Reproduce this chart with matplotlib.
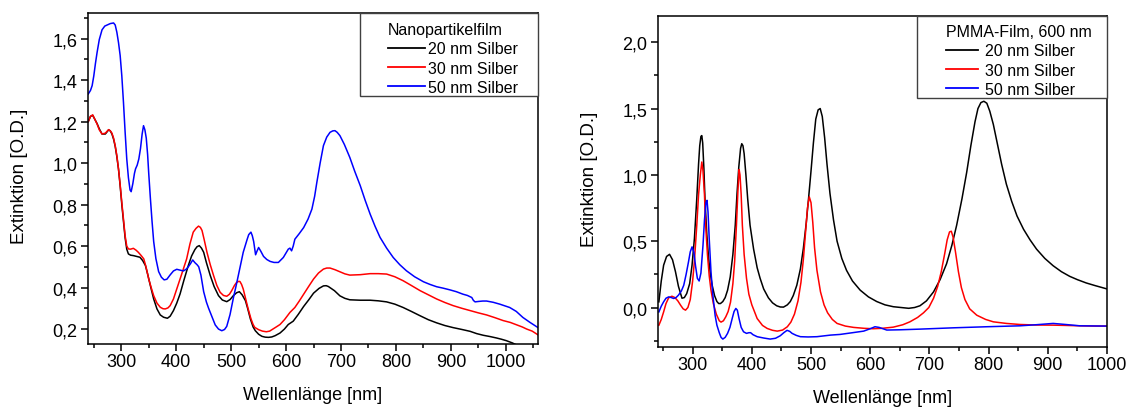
import matplotlib
matplotlib.use("Agg")
import matplotlib.pyplot as plt
from matplotlib.ticker import MultipleLocator, FuncFormatter
from matplotlib.patches import Rectangle

plt.rcParams['font.family'] = ['Liberation Sans', 'DejaVu Sans']

# ---------------- data: left panel (Nanopartikelfilm) ----------------
wl_L_20 = [240, 244, 248, 252, 256, 260, 265, 271, 277, 280, 283, 286, 289, 292, 295, 298, 301, 304, 307,
           310, 313, 317, 322, 328, 334, 339, 344, 348, 353, 359, 365, 371, 377, 384, 389, 395, 401, 407,
           414, 422, 428, 434, 438, 442, 446, 450, 455, 462, 469, 477, 484, 492, 498, 504, 510, 515, 520,
           526, 530, 535, 540, 544, 550, 556, 562, 568, 574, 580, 589, 597, 604, 613, 622, 632, 641, 650,
           660, 668, 673, 677, 688, 698, 707, 716, 735, 753, 768, 783, 798, 813, 828, 844, 859, 874, 889,
           904, 920, 935, 947, 959, 971, 983, 992, 1001, 1012, 1022]
ext_L_20 = [1.20, 1.225, 1.23, 1.21, 1.19, 1.165, 1.14, 1.14, 1.16, 1.155, 1.14, 1.115, 1.08, 1.03, 0.97,
            0.89, 0.80, 0.72, 0.64, 0.585, 0.562, 0.556, 0.554, 0.55, 0.546, 0.53, 0.506, 0.465, 0.409,
            0.345, 0.297, 0.268, 0.257, 0.252, 0.262, 0.289, 0.325, 0.369, 0.435, 0.506, 0.552, 0.583,
            0.597, 0.602, 0.59, 0.570, 0.52, 0.458, 0.405, 0.361, 0.34, 0.332, 0.342, 0.361, 0.375, 0.380,
            0.365, 0.337, 0.30, 0.249, 0.21, 0.192, 0.175, 0.165, 0.161, 0.160, 0.162, 0.168, 0.181, 0.20,
            0.222, 0.238, 0.27, 0.309, 0.34, 0.373, 0.396, 0.408, 0.409, 0.405, 0.385, 0.360, 0.348, 0.341,
            0.339, 0.339, 0.336, 0.331, 0.32, 0.304, 0.285, 0.264, 0.245, 0.23, 0.217, 0.207, 0.198, 0.189,
            0.178, 0.170, 0.164, 0.157, 0.151, 0.144, 0.133, 0.12]

wl_L_30 = [240, 244, 248, 252, 256, 260, 265, 271, 277, 280, 283, 286, 289, 292, 295, 298, 301, 304, 307,
           310, 313, 317, 322, 327, 331, 336, 341, 345, 350, 355, 359, 365, 371, 376, 380, 385, 389, 395,
           401, 410, 419, 425, 431, 436, 440.6, 444, 447, 451, 456, 462, 468, 474, 480, 486, 492, 497, 501,
           506, 510, 514, 516, 519, 522, 526, 531, 536, 540, 543, 550, 557, 564, 570, 576, 582, 589, 597,
           607, 616, 624, 632, 641, 650, 659, 668, 674, 680, 689, 698, 707, 716, 735, 753, 768, 783, 798,
           813, 828, 844, 859, 874, 889, 904, 920, 935, 950, 965, 980, 995, 1008, 1020, 1030, 1038, 1048,
           1058]
ext_L_30 = [1.20, 1.225, 1.232, 1.21, 1.188, 1.16, 1.14, 1.144, 1.161, 1.155, 1.144, 1.12, 1.083, 1.035,
            0.971, 0.895, 0.81, 0.73, 0.65, 0.60, 0.586, 0.585, 0.589, 0.58, 0.570, 0.555, 0.538, 0.50,
            0.441, 0.395, 0.361, 0.325, 0.305, 0.298, 0.297, 0.302, 0.313, 0.345, 0.393, 0.465, 0.538,
            0.61, 0.667, 0.685, 0.696, 0.69, 0.675, 0.63, 0.570, 0.51, 0.458, 0.41, 0.377, 0.362, 0.358,
            0.368, 0.385, 0.41, 0.425, 0.43, 0.429, 0.415, 0.393, 0.35, 0.297, 0.25, 0.222, 0.208, 0.197,
            0.19, 0.187, 0.19, 0.200, 0.21, 0.222, 0.245, 0.280, 0.304, 0.335, 0.368, 0.405, 0.441, 0.47,
            0.489, 0.494, 0.494, 0.486, 0.476, 0.466, 0.460, 0.462, 0.467, 0.467, 0.465, 0.452, 0.433, 0.41,
            0.385, 0.365, 0.345, 0.328, 0.313, 0.30, 0.289, 0.278, 0.268, 0.255, 0.241, 0.232, 0.22, 0.21,
            0.20, 0.19, 0.173]

wl_L_50 = [240, 244, 247, 250, 253, 256, 260, 265, 270, 274, 280, 286, 289, 292, 295, 298, 301, 304, 307,
           310, 313, 316, 318, 321, 324, 326, 329, 332, 335, 338, 340.5, 343, 345.5, 348, 350, 353, 356,
           359, 363, 368, 373, 378, 383, 389, 395, 401, 407, 413, 418, 422, 426, 430, 434, 438, 441, 445,
           450, 455, 459, 465, 471, 477, 483, 488, 492, 498, 504, 510, 516, 522, 529, 532, 536, 538.5, 541,
           543, 544.5, 547, 550, 554, 559, 565, 571, 578, 586, 595, 604, 607, 610, 613, 616, 624, 632, 640,
           647, 652, 656, 662, 668, 674, 680, 685, 689, 693, 698, 706, 716, 725, 735, 744, 753, 762, 771,
           783, 795, 807, 819, 834, 850, 862, 874, 886, 898, 910, 922, 930, 938, 941, 944, 950, 958, 965,
           977, 989, 998, 1007, 1019, 1031, 1044, 1052, 1058]
ext_L_50 = [1.333, 1.35, 1.373, 1.42, 1.48, 1.533, 1.595, 1.642, 1.66, 1.665, 1.672, 1.675, 1.665, 1.630,
            1.58, 1.518, 1.42, 1.293, 1.15, 1.020, 0.93, 0.87, 0.862, 0.90, 0.95, 0.972, 0.99, 1.02, 1.07,
            1.14, 1.18, 1.16, 1.12, 1.04, 0.95, 0.83, 0.72, 0.622, 0.54, 0.477, 0.45, 0.437, 0.44, 0.461,
            0.48, 0.488, 0.484, 0.48, 0.488, 0.50, 0.515, 0.533, 0.52, 0.51, 0.50, 0.46, 0.38, 0.33, 0.30,
            0.26, 0.22, 0.20, 0.192, 0.198, 0.213, 0.27, 0.349, 0.42, 0.494, 0.57, 0.631, 0.655, 0.667,
            0.65, 0.622, 0.585, 0.558, 0.575, 0.593, 0.575, 0.550, 0.535, 0.526, 0.521, 0.521, 0.545,
            0.585, 0.59, 0.577, 0.60, 0.633, 0.66, 0.689, 0.73, 0.778, 0.84, 0.907, 1.00, 1.084, 1.125,
            1.148, 1.155, 1.156, 1.148, 1.132, 1.09, 1.027, 0.96, 0.891, 0.82, 0.754, 0.695, 0.642, 0.59,
            0.545, 0.51, 0.481, 0.452, 0.428, 0.415, 0.404, 0.397, 0.389, 0.38, 0.368, 0.362, 0.352, 0.338,
            0.331, 0.333, 0.335, 0.335, 0.329, 0.320, 0.312, 0.304, 0.285, 0.256, 0.232, 0.218, 0.208]

# ---------------- data: right panel (PMMA-Film, 600 nm) ----------------
wl_R_20 = [243, 247, 251, 256, 261, 266, 271, 276, 282, 286, 290, 295, 299, 303, 307, 310, 312, 314,
           315.5, 317, 319, 321, 324, 327, 330, 333, 337, 341, 344, 347, 351, 355, 359, 363.5, 368, 372,
           375, 378, 381, 383, 385, 387, 390, 393, 397, 403, 409, 414, 420, 428, 435, 442, 448, 453.5,
           460, 465, 470, 476, 482, 487, 492, 496, 500, 504, 508, 512, 515.5, 519, 523, 527, 532, 538,
           544, 552, 560, 570, 583, 597, 611, 625, 639, 652, 665, 675, 684, 695, 707, 718, 729, 738, 746,
           755, 763, 770, 777, 782, 787, 792, 797, 802, 808, 815, 822, 830, 839, 848, 859, 870, 881, 895,
           909, 923, 937, 950, 965, 980, 1000]
ext_R_20 = [0.043, 0.20, 0.319, 0.385, 0.401, 0.36, 0.27, 0.16, 0.07, 0.075, 0.105, 0.18, 0.319, 0.52,
            0.821, 1.08, 1.22, 1.29, 1.296, 1.24, 1.05, 0.80, 0.55, 0.369, 0.25, 0.168, 0.09, 0.045, 0.03,
            0.030, 0.045, 0.075, 0.13, 0.23, 0.40, 0.62, 0.86, 1.06, 1.20, 1.235, 1.22, 1.16, 1.0, 0.82,
            0.62, 0.44, 0.30, 0.22, 0.14, 0.073, 0.035, 0.013, 0.004, 0.003, 0.02, 0.045, 0.09, 0.168,
            0.29, 0.444, 0.64, 0.83, 1.03, 1.24, 1.42, 1.49, 1.50, 1.44, 1.28, 1.08, 0.86, 0.66, 0.50,
            0.37, 0.28, 0.20, 0.131, 0.08, 0.045, 0.02, 0.006, 0.0, -0.006, 0.0, 0.013, 0.05, 0.118, 0.21,
            0.33, 0.47, 0.62, 0.82, 1.02, 1.22, 1.40, 1.50, 1.545, 1.555, 1.54, 1.48, 1.38, 1.23, 1.08,
            0.93, 0.80, 0.69, 0.59, 0.51, 0.44, 0.37, 0.315, 0.27, 0.235, 0.21, 0.185, 0.165, 0.14]

wl_R_30 = [243, 247, 251, 255, 259.5, 265, 270, 275, 280, 284, 288, 292, 296, 300, 303, 307, 310, 313,
           315.5, 317.5, 320, 322, 325, 328, 331, 335, 340, 345, 348, 352, 356, 360, 364, 368, 371, 374,
           376.5, 378.5, 380, 382, 384, 387, 391, 395, 400, 409, 418, 426, 435, 443, 452, 460, 466, 472,
           478, 483, 487, 491, 494, 497, 500, 503, 506, 510, 516, 522, 528, 536, 544, 558, 572, 590, 605,
           620, 639, 655, 667, 680, 690, 699, 707, 714, 720, 726, 730, 734, 737, 740, 744, 749, 754, 760,
           768, 780, 795, 808, 830, 853, 880, 909, 930, 954, 980, 1000]
ext_R_30 = [-0.133, -0.09, -0.033, 0.03, 0.073, 0.085, 0.075, 0.05, 0.015, -0.01, -0.02, 0.0, 0.06, 0.2,
            0.35, 0.62, 0.85, 1.0, 1.097, 1.03, 0.85, 0.62, 0.40, 0.24, 0.13, 0.03, -0.05, -0.10, -0.11,
            -0.10, -0.07, -0.03, 0.04, 0.18, 0.35, 0.62, 0.88, 1.04, 1.0, 0.85, 0.62, 0.40, 0.22, 0.10,
            0.02, -0.083, -0.135, -0.158, -0.172, -0.178, -0.17, -0.145, -0.11, -0.05, 0.05, 0.19, 0.36,
            0.58, 0.75, 0.835, 0.79, 0.64, 0.45, 0.28, 0.118, 0.02, -0.04, -0.09, -0.12, -0.14, -0.15,
            -0.157, -0.16, -0.157, -0.148, -0.13, -0.108, -0.075, -0.04, 0.0, 0.07, 0.16, 0.27, 0.41,
            0.51, 0.57, 0.575, 0.53, 0.42, 0.27, 0.15, 0.06, -0.01, -0.058, -0.09, -0.108, -0.12, -0.128,
            -0.132, -0.133, -0.135, -0.138, -0.14, -0.14]

wl_R_50 = [243, 247, 251, 255, 259.5, 264, 268, 272, 276, 281, 285, 289, 293, 296, 299, 302, 305, 308,
           311, 314, 317.5, 320, 322.5, 324.3, 326, 328, 331, 334, 338, 341, 345, 348, 351, 355, 359, 363,
           367, 370, 373, 375.5, 378.4, 382, 386, 391, 395, 398, 402, 409, 420, 431, 440, 448, 454, 459.5,
           464, 468, 475, 482, 495, 510, 533, 549, 570, 589, 600, 608, 615, 628, 650, 684, 741, 797, 853,
           880, 909, 930, 954, 1000]
ext_R_50 = [-0.033, 0.01, 0.043, 0.07, 0.080, 0.075, 0.068, 0.075, 0.093, 0.125, 0.168, 0.25, 0.344,
            0.42, 0.457, 0.419, 0.31, 0.22, 0.2, 0.26, 0.469, 0.66, 0.79, 0.808, 0.72, 0.52, 0.27, 0.10,
            -0.06, -0.133, -0.19, -0.225, -0.238, -0.225, -0.195, -0.15, -0.08, -0.03, -0.007, -0.02,
            -0.083, -0.15, -0.183, -0.195, -0.19, -0.19, -0.205, -0.22, -0.23, -0.238, -0.232, -0.213,
            -0.19, -0.172, -0.18, -0.195, -0.21, -0.22, -0.222, -0.22, -0.208, -0.203, -0.19, -0.178,
            -0.16, -0.145, -0.15, -0.170, -0.168, -0.163, -0.153, -0.145, -0.138, -0.13, -0.120, -0.128,
            -0.138, -0.14]

series_labels = ["20 nm Silber", "30 nm Silber", "50 nm Silber"]
legend_titles = ["Nanopartikelfilm", "PMMA-Film, 600 nm"]
xlabel = "Wellenlänge [nm]"
ylabel = "Extinktion [O.D.]"
colors = ["#000000", "#ff0000", "#0000ff"]

# ---------------- figure ----------------
W, H = 1130, 410
fig = plt.figure(figsize=(W / 100, H / 100), dpi=100)

def px_axes(l, t, r, b):
    return [l / W, (H - b) / H, (r - l) / W, (b - t) / H]

axL = fig.add_axes(px_axes(88.3, 14, 537.7, 345))
axR = fig.add_axes(px_axes(658.3, 16.7, 1107, 348.3))

comma = FuncFormatter(lambda v, p: f"{v:.1f}".replace('.', ','))

def style(ax, xlim, ylim, ymaj, ymin, ylab_y):
    ax.set_xlim(*xlim)
    ax.set_ylim(*ylim)
    ax.xaxis.set_major_locator(MultipleLocator(100))
    ax.xaxis.set_minor_locator(MultipleLocator(50))
    ax.yaxis.set_major_locator(MultipleLocator(ymaj))
    ax.yaxis.set_minor_locator(MultipleLocator(ymin))
    ax.yaxis.set_major_formatter(comma)
    ax.tick_params(which='both', direction='out', top=False, right=False, width=1.1,
                   labelsize=13, colors='#000000')
    ax.tick_params(which='major', length=4.8)
    ax.tick_params(which='minor', length=3.0)
    ax.tick_params(axis='x', which='both', pad=1.5)
    ax.tick_params(axis='y', which='both', pad=3)
    for s in ax.spines.values():
        s.set_linewidth(1.1)
    ax.set_xlabel(xlabel, fontsize=13)
    ax.set_ylabel(ylabel, fontsize=13.5)
    ax.xaxis.set_label_coords(0.5, -0.127)
    ax.yaxis.set_label_coords(-0.135, ylab_y)

def draw_legend(ax, title, box, title_pos, handlelength, handletextpad):
    x0, y0 = box
    ax.add_patch(Rectangle((x0, y0), 1 - x0, 1 - y0, transform=ax.transAxes, fill=True,
                           facecolor='white', edgecolor='#404040', linewidth=1.0, zorder=4,
                           clip_on=False))
    leg = ax.legend(title=title, loc='upper left', bbox_to_anchor=title_pos, frameon=False,
                    borderpad=0, borderaxespad=0, alignment='left', fontsize=11.5,
                    title_fontsize=11.5, handlelength=handlelength, handletextpad=handletextpad,
                    labelspacing=0.27)
    leg.set_zorder(5)
    for h in leg.legend_handles:
        h.set_linewidth(1.3)

# left panel
for wl, ext, c, lab in zip([wl_L_20, wl_L_30, wl_L_50], [ext_L_20, ext_L_30, ext_L_50], colors,
                           series_labels):
    axL.plot(wl, ext, color=c, lw=1.1, label=lab)
style(axL, (240, 1058), (0.128, 1.723), 0.2, 0.1, 0.51)
draw_legend(axL, legend_titles[0], (0.6046, 0.749), (0.667, 0.973), 2.3, 0.2)

# right panel
for wl, ext, c, lab in zip([wl_R_20, wl_R_30, wl_R_50], [ext_R_20, ext_R_30, ext_R_50], colors,
                           series_labels):
    axR.plot(wl, ext, color=c, lw=1.1, label=lab)
style(axR, (242, 1000), (-0.3, 2.2), 0.5, 0.25, 0.51)
draw_legend(axR, legend_titles[1], (0.5775, 0.752), (0.642, 0.975), 2.0, 0.4)

fig.savefig("out.png", dpi=100)
